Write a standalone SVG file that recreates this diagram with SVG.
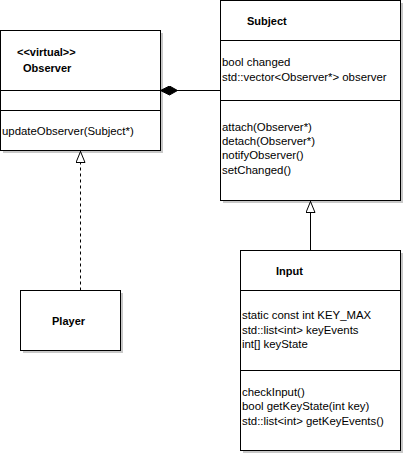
<svg xmlns="http://www.w3.org/2000/svg" width="405" height="455" viewBox="0 0 405 455">
  <style>
    .box { fill: #ffffff; stroke: #000000; stroke-width: 1; }
    .shadow { fill: #c8c8c8; stroke: none; }
    .div { stroke: #000000; stroke-width: 1; fill: none; }
    text { font-family: "Liberation Sans", Arial, Helvetica, sans-serif; font-size: 11.4px; fill: #000000; }
    .title { font-weight: bold; font-size: 11px; }
    .edge { stroke: #000000; stroke-width: 1; fill: none; }
    .dashed { stroke-dasharray: 3 3; }
  </style>
  <defs>
    <marker id="hollowTri" viewBox="0 0 12 10" refX="12" refY="5" markerWidth="12" markerHeight="10" markerUnits="userSpaceOnUse" orient="auto">
      <path d="M0.5,0.5 L11.5,5 L0.5,9.5 Z" fill="#ffffff" stroke="#000000" stroke-width="1"/>
    </marker>
    <marker id="diamond" viewBox="0 0 18 10" refX="0" refY="5" markerWidth="18" markerHeight="10" markerUnits="userSpaceOnUse" orient="auto">
      <path d="M0,5 L9,0.5 L17,5 L9,9.5 Z" fill="#000000" stroke="#000000" stroke-width="1"/>
    </marker>
  </defs>

  <!-- Observer class -->
  <g id="observer">
    <rect class="shadow" x="3" y="33" width="160" height="120"/>
    <rect class="box" x="0.5" y="30.5" width="160" height="120"/>
    <line class="div" x1="0.5" y1="90.5" x2="160.5" y2="90.5"/>
    <line class="div" x1="0.5" y1="110.5" x2="160.5" y2="110.5"/>
    <text class="title" x="17" y="56">&lt;&lt;virtual&gt;&gt;</text>
    <text class="title" x="23" y="72">Observer</text>
    <text x="2" y="135">updateObserver(Subject*)</text>
  </g>

  <!-- Subject class -->
  <g id="subject">
    <rect class="shadow" x="223" y="3" width="180" height="200"/>
    <rect class="box" x="220.5" y="0.5" width="180" height="200"/>
    <line class="div" x1="220.5" y1="40.5" x2="400.5" y2="40.5"/>
    <line class="div" x1="220.5" y1="100.5" x2="400.5" y2="100.5"/>
    <text class="title" x="247" y="25">Subject</text>
    <text x="222" y="66">bool changed</text>
    <text x="222" y="81">std::vector&lt;Observer*&gt; observer</text>
    <text x="222" y="131">attach(Observer*)</text>
    <text x="222" y="145">detach(Observer*)</text>
    <text x="222" y="159">notifyObserver()</text>
    <text x="222" y="174">setChanged()</text>
  </g>

  <!-- Player class -->
  <g id="player">
    <rect class="shadow" x="23" y="293" width="100" height="60"/>
    <rect class="box" x="20.5" y="290.5" width="100" height="60"/>
    <text class="title" x="52" y="325">Player</text>
  </g>

  <!-- Input class -->
  <g id="input">
    <rect class="shadow" x="243" y="253" width="160" height="200"/>
    <rect class="box" x="240.5" y="250.5" width="160" height="200"/>
    <line class="div" x1="240.5" y1="290.5" x2="400.5" y2="290.5"/>
    <line class="div" x1="240.5" y1="370.5" x2="400.5" y2="370.5"/>
    <text class="title" x="276" y="275">Input</text>
    <text x="242" y="319">static const int KEY_MAX</text>
    <text x="242" y="334">std::list&lt;int&gt; keyEvents</text>
    <text x="242" y="348">int[] keyState</text>
    <text x="242" y="396">checkInput()</text>
    <text x="242" y="410">bool getKeyState(int key)</text>
    <text x="242" y="425">std::list&lt;int&gt; getKeyEvents()</text>
  </g>

  <!-- Connectors -->
  <g id="connectors">
    <!-- composition: Subject owns Observers -->
    <path class="edge" d="M160.5,90.5 L220.5,90.5" marker-start="url(#diamond)"/>
    <!-- realization: Player implements Observer -->
    <path class="edge dashed" d="M80.5,290.5 L80.5,151" marker-end="url(#hollowTri)"/>
    <!-- generalization: Input extends Subject -->
    <path class="edge" d="M310.5,250.5 L310.5,201" marker-end="url(#hollowTri)"/>
  </g>
</svg>
